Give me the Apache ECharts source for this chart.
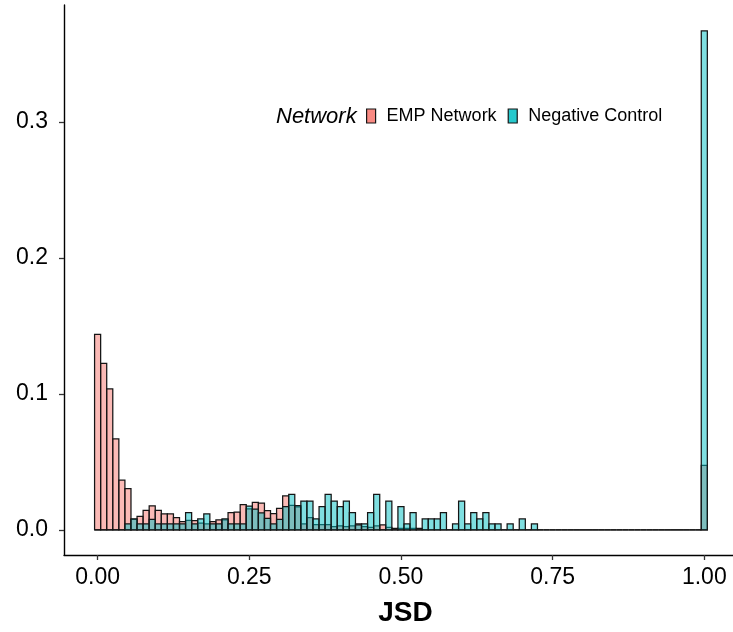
<!DOCTYPE html>
<html>
<head>
<meta charset="utf-8">
<script src="https://cdn.jsdelivr.net/npm/echarts@6/dist/echarts.min.js"></script>
<style>
  html, body { margin: 0; padding: 0; background: #ffffff; }
  #chart { width: 733px; height: 632px; }
</style>
</head>
<body>
<div id="chart"></div>
<script>
// Histogram bin centres (bin width 0.01)
const jsdBins = [
  0.00, 0.01, 0.02, 0.03, 0.04, 0.05, 0.06, 0.07, 0.08, 0.09,
  0.10, 0.11, 0.12, 0.13, 0.14, 0.15, 0.16, 0.17, 0.18, 0.19,
  0.20, 0.21, 0.22, 0.23, 0.24, 0.25, 0.26, 0.27, 0.28, 0.29,
  0.30, 0.31, 0.32, 0.33, 0.34, 0.35, 0.36, 0.37, 0.38, 0.39,
  0.40, 0.41, 0.42, 0.43, 0.44, 0.45, 0.46, 0.47, 0.48, 0.49,
  0.50, 0.51, 0.52, 0.53, 0.54, 0.55, 0.56, 0.57, 0.58, 0.59,
  0.60, 0.61, 0.62, 0.63, 0.64, 0.65, 0.66, 0.67, 0.68, 0.69,
  0.70, 0.71, 0.72, 0.73, 0.74, 0.75, 0.76, 0.77, 0.78, 0.79,
  0.80, 0.81, 0.82, 0.83, 0.84, 0.85, 0.86, 0.87, 0.88, 0.89,
  0.90, 0.91, 0.92, 0.93, 0.94, 0.95, 0.96, 0.97, 0.98, 0.99,
  1.00
];

// Proportion of pairs per bin, EMP Network
const empNetwork = [
  0.1439, 0.1225, 0.1037, 0.0669, 0.0366, 0.0304, 0.0078, 0.0100, 0.0145, 0.0178,
  0.0144, 0.0118, 0.0118, 0.0091, 0.0062, 0.0070, 0.0069, 0.0050, 0.0044, 0.0061,
  0.0074, 0.0074, 0.0127, 0.0132, 0.0186, 0.0155, 0.0203, 0.0198, 0.0142, 0.0120,
  0.0159, 0.0250, 0.0180, 0.0170, 0.0044, 0.0090, 0.0040, 0.0040, 0.0040, 0.0025,
  0.0030, 0.0025, 0.0030, 0.0045, 0.0025, 0.0020, 0.0030, 0.0037, 0.0020, 0.0012,
  0.0012, 0.0012, 0.0012, 0.0012, 0, 0, 0, 0, 0, 0,
  0, 0, 0, 0, 0, 0, 0, 0, 0, 0,
  0, 0, 0, 0, 0, 0, 0, 0, 0, 0,
  0, 0, 0, 0, 0, 0, 0, 0, 0, 0,
  0, 0, 0, 0, 0, 0, 0, 0, 0, 0,
  0.0475
];

// Proportion of pairs per bin, Negative Control
const negativeControl = [
  0, 0, 0, 0, 0, 0.0044, 0.0081, 0.0044, 0.0044, 0.0078,
  0.0044, 0.0044, 0.0044, 0.0044, 0.0044, 0.0127, 0.0044, 0.0081, 0.0118, 0.0044,
  0.0044, 0.0081, 0.0044, 0.0044, 0.0044, 0.0176, 0.0154, 0.0125, 0.0085, 0.0044,
  0.0078, 0.0172, 0.0262, 0.0179, 0.0213, 0.0213, 0.0081, 0.0172, 0.0262, 0.0213,
  0.0172, 0.0213, 0.0127, 0.0037, 0.0044, 0.0127, 0.0262, 0, 0.0213, 0,
  0.0172, 0.0044, 0.0127, 0, 0.0081, 0.0081, 0.0081, 0.0127, 0, 0.0044,
  0.0213, 0.0044, 0.0127, 0.0081, 0.0127, 0.0044, 0.0044, 0, 0.0044, 0,
  0.0081, 0, 0.0044, 0, 0, 0, 0, 0, 0, 0,
  0, 0, 0, 0, 0, 0, 0, 0, 0, 0,
  0, 0, 0, 0, 0, 0, 0, 0, 0, 0,
  0.3669
];

const xTicks = [0, 0.25, 0.5, 0.75, 1];
const yTicks = [0, 0.1, 0.2, 0.3];

const BIN_WIDTH = 0.01;
const FONT = '"Liberation Sans", Arial, sans-serif';
const EMP_FILL = 'rgba(248,118,109,0.5)';
const NC_FILL = 'rgba(0,191,196,0.5)';
const OUTLINE = '#151515';

function histBars(fill) {
  return function (params, api) {
    const x = api.value(0);
    const y = api.value(1);
    const topLeft = api.coord([x - BIN_WIDTH / 2, y]);
    const bottomRight = api.coord([x + BIN_WIDTH / 2, 0]);
    return {
      type: 'rect',
      shape: {
        x: topLeft[0],
        y: topLeft[1],
        width: bottomRight[0] - topLeft[0],
        height: bottomRight[1] - topLeft[1]
      },
      style: { fill: fill, stroke: OUTLINE, lineWidth: 1.25 }
    };
  };
}

const chart = echarts.init(document.getElementById('chart'), null, { renderer: 'canvas' });

chart.setOption({
  animation: false,
  backgroundColor: '#ffffff',
  grid: { left: 64, right: 0, top: 5, bottom: 77, containLabel: false },
  title: {
    text: 'Network',
    left: 271,
    top: 101,
    textStyle: { fontFamily: FONT, fontSize: 22, fontStyle: 'italic', fontWeight: 'normal', color: '#000' }
  },
  legend: {
    left: 366,
    top: 107,
    padding: 0,
    orient: 'horizontal',
    itemWidth: 9,
    itemHeight: 14,
    itemGap: 11,
    icon: 'rect',
    textStyle: { fontFamily: FONT, fontSize: 18, color: '#000', padding: [0, 0, 0, 6] },
    data: [
      { name: 'EMP Network', itemStyle: { color: 'rgba(248,118,109,0.85)', borderColor: OUTLINE, borderWidth: 1.2 } },
      { name: 'Negative Control', itemStyle: { color: 'rgba(0,191,196,0.85)', borderColor: OUTLINE, borderWidth: 1.2 } }
    ]
  },
  xAxis: {
    type: 'value',
    min: -0.0554,
    max: 1.0473,
    name: 'JSD',
    nameLocation: 'middle',
    nameGap: 44,
    nameTextStyle: {
      fontFamily: FONT, fontSize: 28, fontWeight: 'bold', color: '#000',
      verticalAlign: 'top', padding: [0, 0, 0, 14]
    },
    splitLine: { show: false },
    axisLine: { show: true, onZero: false, lineStyle: { color: '#000', width: 1.4 } },
    axisTick: { show: true, customValues: xTicks, length: 5, lineStyle: { color: '#333', width: 1.3 } },
    axisLabel: {
      customValues: xTicks,
      margin: 11,
      fontFamily: FONT, fontSize: 23, color: '#000',
      formatter: v => v.toFixed(2)
    }
  },
  yAxis: {
    type: 'value',
    min: -0.0184,
    max: 0.386,
    splitLine: { show: false },
    axisLine: { show: true, onZero: false, lineStyle: { color: '#000', width: 1.4 } },
    axisTick: { show: true, customValues: yTicks, length: 5, lineStyle: { color: '#333', width: 1.3 } },
    axisLabel: {
      customValues: yTicks,
      margin: 16,
      fontFamily: FONT, fontSize: 23, color: '#000',
      formatter: v => v.toFixed(1)
    }
  },
  series: [
    {
      name: 'EMP Network',
      type: 'custom',
      renderItem: histBars(EMP_FILL),
      itemStyle: { color: EMP_FILL },
      encode: { x: 0, y: 1 },
      data: jsdBins.map((b, i) => [b, empNetwork[i]])
    },
    {
      name: 'Negative Control',
      type: 'custom',
      renderItem: histBars(NC_FILL),
      itemStyle: { color: NC_FILL },
      encode: { x: 0, y: 1 },
      data: jsdBins.map((b, i) => [b, negativeControl[i]])
    }
  ]
});
</script>
</body>
</html>
